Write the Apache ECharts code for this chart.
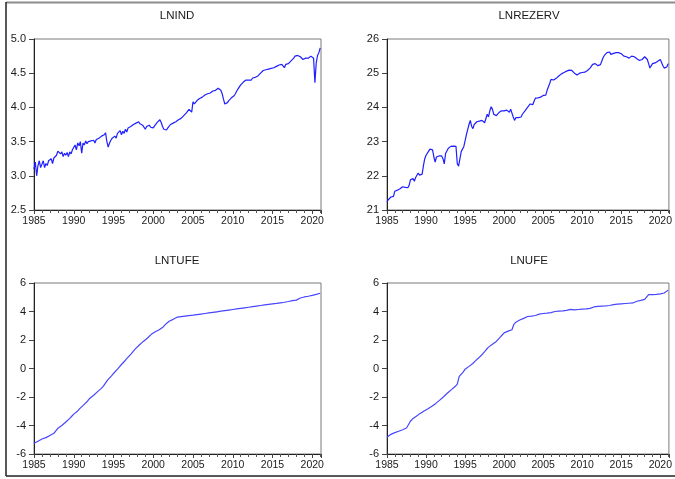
<!DOCTYPE html>
<html>
<head>
<meta charset="utf-8">
<title>LNIND, LNREZERV, LNTUFE, LNUFE</title>
<script src="https://cdn.jsdelivr.net/npm/echarts@6/dist/echarts.min.js"></script>
<style>
  html, body { margin: 0; padding: 0; background: #ffffff; }
  #chart { width: 675px; height: 479px; }
</style>
</head>
<body>
<div id="chart"></div>
<script>
// Panel titles
const titles = ['LNIND', 'LNREZERV', 'LNTUFE', 'LNUFE'];

// Year tick labels on every horizontal axis
const yearTicks = [1985, 1990, 1995, 2000, 2005, 2010, 2015, 2020];

// LNIND, every second month from 1985M01
const lnind = [
  3.10, 3.20, 3.00, 3.15, 3.22, 3.12,
  3.14, 3.22, 3.12, 3.18, 3.15, 3.22,
  3.20, 3.25, 3.18, 3.26, 3.24, 3.30,
  3.36, 3.38, 3.32, 3.35, 3.28, 3.33,
  3.30, 3.34, 3.28, 3.35, 3.32, 3.38,
  3.40, 3.45, 3.38, 3.48, 3.44, 3.50,
  3.33, 3.48, 3.45, 3.51, 3.47, 3.50,
  3.49, 3.51, 3.50, 3.52, 3.48, 3.53,
  3.52, 3.55, 3.53, 3.58, 3.56, 3.60,
  3.63, 3.50, 3.42, 3.48, 3.52, 3.55,
  3.53, 3.58, 3.55, 3.62, 3.60, 3.66,
  3.60, 3.65, 3.62, 3.68, 3.64, 3.70,
  3.68, 3.72, 3.70, 3.75, 3.73, 3.77,
  3.77, 3.79, 3.76, 3.78, 3.74, 3.76,
  3.68, 3.72, 3.70, 3.74, 3.71, 3.73,
  3.70, 3.73, 3.75, 3.78, 3.80, 3.82,
  3.78, 3.72, 3.68, 3.70, 3.67, 3.70,
  3.72, 3.75, 3.73, 3.77, 3.76, 3.79,
  3.78, 3.82, 3.80, 3.84, 3.83, 3.88,
  3.88, 3.92, 3.90, 3.97, 3.95, 3.93,
  4.08, 4.05, 4.07, 4.10, 4.12, 4.13,
  4.12, 4.15, 4.16, 4.18, 4.17, 4.20,
  4.22, 4.21, 4.23, 4.24, 4.22, 4.25,
  4.26, 4.28, 4.27, 4.25, 4.20, 4.12,
  4.05, 4.05, 4.07, 4.10, 4.12, 4.14,
  4.15, 4.17, 4.20, 4.24, 4.27, 4.30,
  4.33, 4.35, 4.37, 4.36, 4.40, 4.38,
  4.40, 4.41, 4.40, 4.43, 4.42, 4.44,
  4.45, 4.46, 4.48, 4.50, 4.52, 4.54,
  4.53, 4.55, 4.54, 4.56, 4.55, 4.57,
  4.56, 4.58, 4.59, 4.60, 4.61, 4.62,
  4.62, 4.63, 4.64, 4.58, 4.63, 4.65,
  4.64, 4.66, 4.68, 4.70, 4.72, 4.75,
  4.77, 4.76, 4.75, 4.74, 4.72, 4.70,
  4.69, 4.72, 4.74, 4.72, 4.73, 4.75,
  4.76, 4.72, 4.36, 4.65, 4.76, 4.80,
  4.87
];

// LNREZERV, every second month from 1985M01
const lnrezerv = [
  21.24, 21.30, 21.35, 21.38, 21.42, 21.40,
  21.55, 21.50, 21.58, 21.55, 21.62, 21.60,
  21.68, 21.72, 21.66, 21.70, 21.65, 21.72,
  21.88, 21.85, 21.92, 21.84, 21.95, 21.90,
  22.08, 22.02, 21.98, 22.05, 22.30, 22.50,
  22.60, 22.65, 22.72, 22.78, 22.75, 22.76,
  22.55, 22.40, 22.55, 22.60, 22.58, 22.60,
  22.58, 22.50, 22.35, 22.65, 22.70, 22.80,
  22.85, 22.86, 22.84, 22.87, 22.85, 22.86,
  22.35, 22.28, 22.30, 22.70, 22.78, 22.85,
  22.88, 23.20, 23.35, 23.50, 23.62, 23.45,
  23.38, 23.50, 23.55, 23.58, 23.55, 23.60,
  23.65, 23.62, 23.58, 23.55, 23.60, 23.80,
  23.72, 23.90, 24.02, 23.95, 23.80, 23.78,
  23.76, 23.80, 23.85, 23.88, 23.90, 23.92,
  23.90, 23.88, 23.92, 23.90, 23.86, 23.95,
  23.98, 23.72, 23.62, 23.70, 23.65, 23.70,
  23.68, 23.72, 23.80, 23.85, 23.90, 23.95,
  24.00, 24.05, 24.10, 24.12, 24.08, 24.18,
  24.27, 24.26, 24.28, 24.25, 24.30, 24.32,
  24.35, 24.38, 24.36, 24.50, 24.55, 24.70,
  24.82, 24.84, 24.80, 24.82, 24.85, 24.88,
  24.92, 24.95, 24.98, 25.00, 25.02, 25.05,
  25.06, 25.08, 25.09, 25.10, 25.08, 25.05,
  25.00, 24.96, 24.95, 24.98, 25.00, 25.02,
  25.02, 25.04, 25.03, 25.06, 25.08, 25.12,
  25.15, 25.20, 25.26, 25.30, 25.28, 25.24,
  25.22, 25.20, 25.25, 25.35, 25.45, 25.52,
  25.56, 25.60, 25.58, 25.62, 25.55, 25.60,
  25.58, 25.62, 25.60, 25.61, 25.60, 25.58,
  25.57, 25.52, 25.50, 25.49, 25.48, 25.46,
  25.44, 25.47, 25.50, 25.52, 25.48, 25.44,
  25.42, 25.40, 25.37, 25.38, 25.40, 25.45,
  25.48, 25.45, 25.40, 25.28, 25.15, 25.20,
  25.28, 25.25, 25.30, 25.32, 25.35, 25.38,
  25.40, 25.38, 25.22, 25.15, 25.10, 25.18,
  25.28
];

// LNTUFE, quarterly from 1985Q1
const lntufe = [
  -5.25, -5.20, -5.10, -5.00,
  -4.95, -4.90, -4.85, -4.78,
  -4.70, -4.63, -4.55, -4.48,
  -4.20, -4.10, -4.00, -3.88,
  -3.75, -3.62, -3.50, -3.35,
  -3.20, -3.10, -2.98, -2.82,
  -2.68, -2.55, -2.45, -2.28,
  -2.10, -2.02, -1.88, -1.75,
  -1.62, -1.50, -1.38, -1.22,
  -1.08, -0.82, -0.70, -0.52,
  -0.35, -0.22, -0.05, 0.12,
  0.28, 0.42, 0.58, 0.75,
  0.88, 1.05, 1.22, 1.38,
  1.52, 1.65, 1.78, 1.90,
  2.00, 2.12, 2.25, 2.40,
  2.52, 2.58, 2.65, 2.72,
  2.80, 2.92, 3.08, 3.22,
  3.32, 3.38, 3.45, 3.52,
  3.60, 3.62, 3.64, 3.66,
  3.68, 3.69, 3.71, 3.72,
  3.74, 3.76, 3.78, 3.80,
  3.82, 3.84, 3.86, 3.88,
  3.90, 3.92, 3.94, 3.96,
  3.98, 4.00, 4.02, 4.04,
  4.06, 4.08, 4.10, 4.12,
  4.14, 4.16, 4.18, 4.20,
  4.22, 4.24, 4.26, 4.28,
  4.30, 4.32, 4.34, 4.36,
  4.38, 4.40, 4.42, 4.44,
  4.46, 4.48, 4.50, 4.52,
  4.54, 4.56, 4.57, 4.59,
  4.61, 4.63, 4.65, 4.67,
  4.70, 4.73, 4.76, 4.78,
  4.80, 4.84, 4.95, 5.00,
  5.02, 5.05, 5.07, 5.10,
  5.13, 5.16, 5.20, 5.24,
  5.28
];

// LNUFE, quarterly from 1985Q1
const lnufe = [
  -4.83, -4.72, -4.62, -4.55,
  -4.50, -4.45, -4.40, -4.35,
  -4.30, -4.25, -4.18, -4.08,
  -3.70, -3.55, -3.45, -3.35,
  -3.25, -3.15, -3.05, -2.98,
  -2.90, -2.82, -2.72, -2.65,
  -2.55, -2.45, -2.32, -2.22,
  -2.10, -1.98, -1.85, -1.72,
  -1.60, -1.48, -1.38, -1.25,
  -1.10, -0.55, -0.42, -0.25,
  -0.05, 0.05, 0.15, 0.22,
  0.35, 0.50, 0.62, 0.75,
  0.88, 1.02, 1.18, 1.35,
  1.50, 1.60, 1.70, 1.80,
  1.90, 2.02, 2.20, 2.35,
  2.50, 2.56, 2.62, 2.68,
  2.72, 3.10, 3.25, 3.35,
  3.40, 3.45, 3.52, 3.58,
  3.65, 3.68, 3.68, 3.70,
  3.72, 3.76, 3.82, 3.85,
  3.86, 3.87, 3.88, 3.90,
  3.92, 3.95, 4.00, 4.01,
  4.02, 4.03, 4.04, 4.05,
  4.08, 4.20, 4.15, 4.12,
  4.12, 4.13, 4.14, 4.15,
  4.16, 4.17, 4.18, 4.20,
  4.22, 4.28, 4.32, 4.35,
  4.36, 4.37, 4.38, 4.38,
  4.39, 4.40, 4.42, 4.44,
  4.48, 4.50, 4.52, 4.53,
  4.54, 4.55, 4.56, 4.57,
  4.58, 4.59, 4.60, 4.62,
  4.72, 4.76, 4.78, 4.80,
  4.85, 4.95, 5.18, 5.15,
  5.18, 5.20, 5.20, 5.22,
  5.24, 5.26, 5.30, 5.38,
  5.50
];

// Sampling: observations per year and first year of each series
const startYear = 1985;
const perYear = [6, 6, 4, 4];
const seriesValues = [lnind, lnrezerv, lntufe, lnufe];

// Vertical scales of the four panels
const yMin = [2.5, 21, -6, -6];
const yMax = [5.0, 26, 6, 6];
const yStep = [0.5, 1, 2, 2];
const yDecimals = [1, 0, 0, 0];

const FONT = '"Liberation Sans", Arial, sans-serif';
const TEXT = '#1a1a1a';

// Plot rectangles of the 2x2 layout
const grids = [
  { left: 34, top: 39, width: 287, height: 171 },
  { left: 387, top: 39, width: 286, height: 171 },
  { left: 34, top: 283, width: 287, height: 171 },
  { left: 387, top: 283, width: 286, height: 171 }
];
const titlePos = [
  { x: 177, y: 16 }, { x: 529, y: 16 },
  { x: 177, y: 261 }, { x: 529, y: 261 }
];

const option = {
  backgroundColor: '#ffffff',
  animation: false,
  title: titles.map((t, i) => ({
    text: t,
    left: titlePos[i].x,
    top: titlePos[i].y,
    textAlign: 'center',
    textVerticalAlign: 'middle',
    padding: 0,
    textStyle: { fontFamily: FONT, fontSize: 11.5, fontWeight: 'normal', color: TEXT }
  })),
  grid: grids.map(g => Object.assign({
    show: true, borderColor: '#7a7a7a', borderWidth: 1,
    backgroundColor: 'transparent', containLabel: false
  }, g)),
  xAxis: grids.map((g, i) => ({
    type: 'value',
    gridIndex: i,
    min: startYear,
    max: 2021.1,
    interval: 5,
    axisLine: { show: true, onZero: false, lineStyle: { color: '#222', width: 1 } },
    axisTick: { show: true, inside: false, length: 4, lineStyle: { color: '#444' } },
    minorTick: { show: true, splitNumber: 5, length: 3, lineStyle: { color: '#555' } },
    splitLine: { show: false },
    minorSplitLine: { show: false },
    axisLabel: {
      show: true, margin: 6, fontFamily: FONT, fontSize: 10.5, color: TEXT,
      showMaxLabel: false,
      formatter: v => (yearTicks.indexOf(Math.round(v)) >= 0 && Math.abs(v - Math.round(v)) < 1e-6) ? String(Math.round(v)) : ''
    }
  })),
  yAxis: grids.map((g, i) => ({
    type: 'value',
    gridIndex: i,
    min: yMin[i],
    max: yMax[i],
    interval: yStep[i],
    axisLine: { show: true, lineStyle: { color: '#222', width: 1 } },
    axisTick: { show: true, inside: false, length: 5, lineStyle: { color: '#444' } },
    splitLine: { show: false },
    axisLabel: {
      show: true, margin: 8, fontFamily: FONT, fontSize: 11, color: TEXT,
      formatter: v => v.toFixed(yDecimals[i])
    }
  })),
  series: seriesValues.map((vals, i) => ({
    type: 'line',
    xAxisIndex: i,
    yAxisIndex: i,
    showSymbol: false,
    symbol: 'none',
    silent: true,
    lineStyle: { color: i < 2 ? '#1f1fff' : '#4646ff', width: 1.2 },
    data: vals.map((v, k) => [startYear + k / perYear[i], v])
  })),
  // Outer frame around the whole figure
  graphic: [
    { type: 'line', shape: { x1: 6, y1: 2.5, x2: 675, y2: 2.5 }, style: { stroke: '#8c8c8c', lineWidth: 2 } },
    { type: 'line', shape: { x1: 6, y1: 2, x2: 6, y2: 476 }, style: { stroke: '#222', lineWidth: 1.5 } },
    { type: 'line', shape: { x1: 6, y1: 476, x2: 675, y2: 476 }, style: { stroke: '#222', lineWidth: 1.5 } }
  ]
};

const chart = echarts.init(document.getElementById('chart'), null, { renderer: 'canvas' });
chart.setOption(option);
</script>
</body>
</html>
